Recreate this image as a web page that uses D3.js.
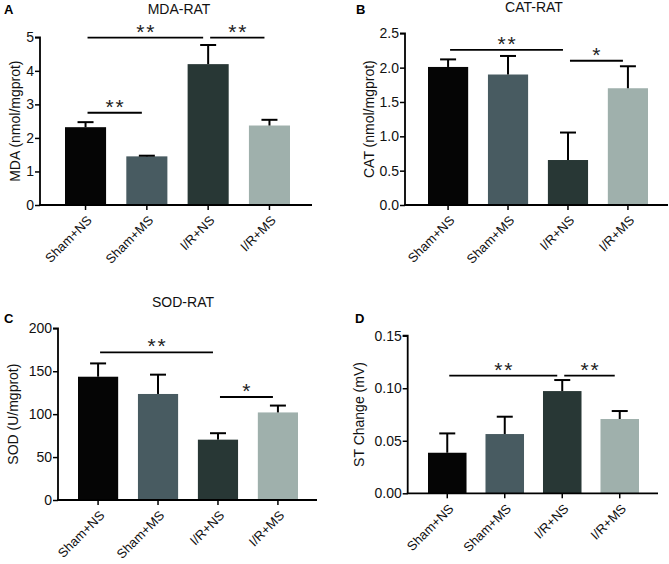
<!DOCTYPE html>
<html><head><meta charset="utf-8">
<script src="https://cdn.jsdelivr.net/npm/d3@7/dist/d3.min.js"></script>
<style>body{margin:0;background:#fff}svg{display:block;font-family:"Liberation Sans",Arial,sans-serif}</style>
</head><body><svg id="c" width="669" height="564"></svg>
<script>
const categories = ["Sham+NS","Sham+MS","I/R+NS","I/R+MS"];
const barColors = ["#050505","#485b61","#283735","#9fb0ac"];

const mdaValues = [2.32, 1.45, 4.20, 2.37];
const mdaErrors = [0.15, 0.02, 0.57, 0.17];
const mdaTicks = [0,1,2,3,4,5];

const catValues = [2.01, 1.90, 0.655, 1.70];
const catErrors = [0.11, 0.27, 0.40, 0.32];
const catTicks = [0,0.5,1.0,1.5,2.0,2.5];

const sodValues = [143.6, 123.5, 70.3, 102];
const sodErrors = [15.5, 22.5, 7.5, 8];
const sodTicks = [0,50,100,150,200];

const stValues = [0.0386, 0.0564, 0.0973, 0.0707];
const stErrors = [0.0184, 0.0165, 0.0105, 0.0076];
const stTicks = [0,0.05,0.10,0.15];

// significance brackets: [fromIndex, toIndex, label, level(value)]
const mdaSig = [[0,2,"**",4.99],[2,3,"**",4.99],[0,1,"**",2.75]];
const catSig = [[0,2,"**",2.26],[2,3,"*",2.1]];
const sodSig = [[0,2,"**",172],[2,3,"*",120]];
const stSig  = [[0,2,"**",0.112],[2,3,"**",0.112]];

const panels = [
  {letter:"A", lx:4, ly:14, title:"MDA-RAT", tx:179, ty:14, ylabel:"MDA (nmol/mgprot)",
   values:mdaValues, errors:mdaErrors, ticks:mdaTicks, fmt:d3.format("d"), sig:mdaSig,
   x0:40, x1:312, y0:205, y1:37.3, dom:[0,5], bar0:65, bar1:290, ylx:20},
  {letter:"B", lx:356, ly:14, title:"CAT-RAT", tx:534, ty:12, ylabel:"CAT (nmol/mgprot)",
   values:catValues, errors:catErrors, ticks:catTicks, fmt:d3.format(".1f"), sig:catSig,
   x0:405, x1:668, y0:205, y1:33.3, dom:[0,2.5], bar0:428, bar1:648, ylx:374},
  {letter:"C", lx:4, ly:323, title:"SOD-RAT", tx:183, ty:307, ylabel:"SOD (U/mgprot)",
   values:sodValues, errors:sodErrors, ticks:sodTicks, fmt:d3.format("d"), sig:sodSig,
   x0:58, x1:317, y0:500, y1:328.3, dom:[0,200], bar0:78, bar1:298, ylx:18},
  {letter:"D", lx:355, ly:323, title:"", tx:0, ty:0, ylabel:"ST Change (mV)",
   values:stValues, errors:stErrors, ticks:stTicks, fmt:d3.format(".2f"), sig:stSig,
   x0:407.7, x1:658, y0:493.3, y1:335.7, dom:[0,0.15], bar0:428, bar1:639, ylx:364}
];

const svg = d3.select("#c");

panels.forEach(p => {
  const g = svg.append("g");
  const pad = 0.33;
  const step = (p.bar1 - p.bar0) / (categories.length - pad);
  const x = d3.scaleBand().domain(categories)
    .range([p.bar0 - step*pad/2, p.bar1 + step*pad/2]).paddingInner(pad).paddingOuter(pad/2);
  const y = d3.scaleLinear().domain(p.dom).range([p.y0, p.y1]);
  const bw = x.bandwidth();

  // bars
  g.selectAll("rect.bar").data(p.values).enter().append("rect")
    .attr("x",(d,i)=>x(categories[i])).attr("width",bw)
    .attr("y",d=>y(d)).attr("height",d=>y(0)-y(d))
    .attr("fill",(d,i)=>barColors[i]);

  // error bars
  p.values.forEach((v,i)=>{
    const cx = x(categories[i]) + bw/2;
    g.append("line").attr("x1",cx).attr("x2",cx).attr("y1",y(v)).attr("y2",y(v+p.errors[i]))
      .attr("stroke","#000").attr("stroke-width",2);
    g.append("line").attr("x1",cx-8).attr("x2",cx+8).attr("y1",y(v+p.errors[i])).attr("y2",y(v+p.errors[i]))
      .attr("stroke","#000").attr("stroke-width",2);
  });

  // axes
  const yAxis = d3.axisLeft(y).tickValues(p.ticks).tickFormat(p.fmt).tickSize(5).tickPadding(1);
  const ya = g.append("g").attr("transform",`translate(${p.x0},0)`).call(yAxis);
  ya.select(".domain").attr("stroke","#000").attr("stroke-width",1.8).attr("d",`M-5,${p.y1}H0V${p.y0}`);
  ya.selectAll(".tick line").attr("stroke","#000").attr("stroke-width",1.5);
  ya.selectAll(".tick text").attr("font-size",14).attr("fill","#111").attr("font-family","Liberation Sans, Arial, sans-serif");

  g.append("line").attr("x1",p.x0-0.9).attr("x2",p.x1).attr("y1",p.y0).attr("y2",p.y0)
    .attr("stroke","#000").attr("stroke-width",1.8);
  categories.forEach((c,i)=>{
    const cx = x(c)+bw/2;
    g.append("line").attr("x1",cx).attr("x2",cx).attr("y1",p.y0).attr("y2",p.y0+5)
      .attr("stroke","#000").attr("stroke-width",1.5);
    g.append("text").attr("transform",`translate(${cx+4},${p.y0+13}) rotate(-45)`)
      .attr("text-anchor","end").attr("dy","0.35em").attr("font-size",13).attr("fill","#111")
      .text(c);
  });

  // y label
  g.append("text").attr("transform",`translate(${p.ylx},${(p.y0+p.y1)/2}) rotate(-90)`)
    .attr("text-anchor","middle").attr("font-size",14).attr("fill","#111").text(p.ylabel);

  // title & letter
  if (p.title) g.append("text").attr("x",p.tx).attr("y",p.ty).attr("text-anchor","middle")
    .attr("font-size",14).attr("fill","#111").text(p.title);
  g.append("text").attr("x",p.lx).attr("y",p.ly).attr("font-size",13).attr("font-weight","bold")
    .attr("fill","#000").text(p.letter);

  // significance
  p.sig.forEach(s=>{
    const xa = x(categories[s[0]])+bw/2+2, xb = x(categories[s[1]])+bw/2-5;
    const yy = y(s[3]);
    g.append("line").attr("x1",xa).attr("x2",xb).attr("y1",yy).attr("y2",yy)
      .attr("stroke","#000").attr("stroke-width",1.8);
    const stars = s[2].split("");
    const sp = 10;
    stars.forEach((st,k)=>{
      g.append("text").attr("x",(xa+xb)/2 + (k-(stars.length-1)/2)*sp).attr("y",yy+1)
        .attr("text-anchor","middle").attr("font-size",21).attr("fill","#222").text(st);
    });
  });
});
</script></body></html>
